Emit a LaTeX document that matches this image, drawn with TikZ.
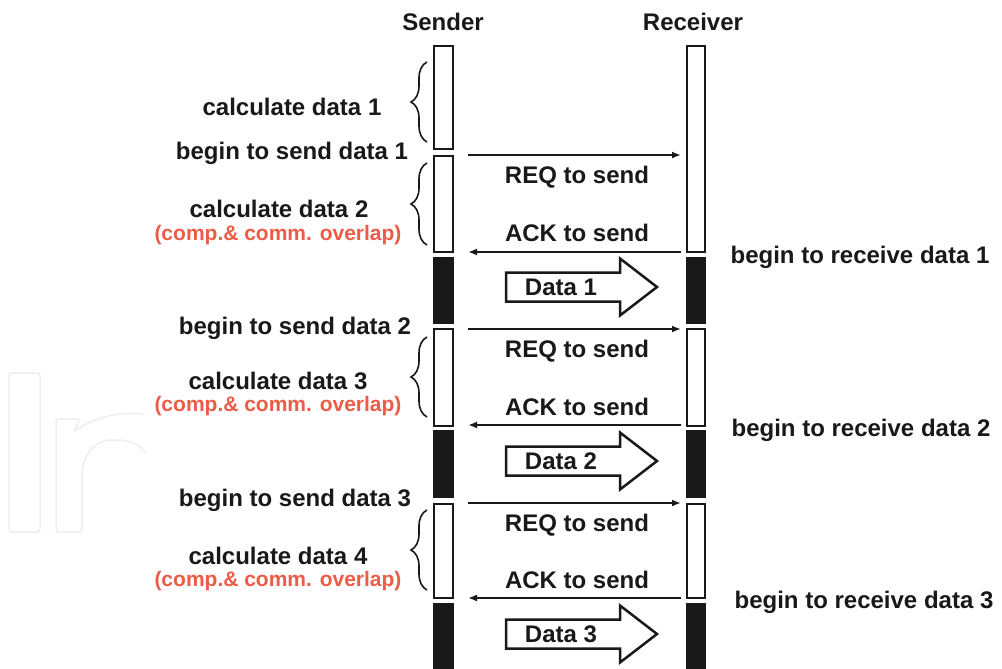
\documentclass[tikz,border=0pt]{standalone}
\usepackage{fontspec}
\setmainfont{Liberation Sans}
\usetikzlibrary{decorations.pathreplacing,arrows.meta}
\definecolor{ink}{RGB}{25,25,25}
\definecolor{redtxt}{RGB}{236,92,70}
\definecolor{wmark}{RGB}{238,238,238}
\newcommand\DataArr[3]{%
  \draw[dataarrow] (506,#1-14.5) -- (620,#1-14.5) -- (620,#1-28.5) -- (657,#1) -- (620,#1+28.5) -- (620,#1+14.5) -- (506,#1+14.5) -- cycle;
  \node[lbl] (#3) at (561,#1) {#2};}
\begin{document}
\begin{tikzpicture}[x=1pt,y=-1pt,
  lbl/.style={font=\fontsize{24}{26}\selectfont\bfseries, text=ink, inner sep=0pt},
  redlbl/.style={font=\fontsize{21}{23}\selectfont\bfseries, text=redtxt, inner sep=0pt},
  wbar/.style={draw=ink, line width=2.5pt, fill=white},
  bbar/.style={draw=ink, line width=2.5pt, fill=ink},
  msg/.style={draw=ink, line width=2pt, -{Latex[length=9pt,width=7pt]}},
  brc/.style={draw=ink, line width=1.6pt, decorate, decoration={brace, amplitude=16pt}},
  dataarrow/.style={draw=ink, line width=2.5pt, fill=white, line join=miter}]
\useasboundingbox (0,0) rectangle (1002,669);
\fill[white] (0,0) rectangle (1002,669);
% watermark
\begin{scope}
\clip (0,0) rectangle (145,669);
\draw[wmark, line width=1.5pt, rounded corners=3pt] (9,373) rectangle (40,532);
\draw[wmark, line width=1.5pt, rounded corners=3pt] (56,532) -- (56,419) -- (80,419) -- (74,432) .. controls (100,412) and (150,405) .. (175,430) -- (175,532) -- (150,532) -- (150,470) .. controls (150,450) and (135,440) .. (115,440) .. controls (95,440) and (82,455) .. (82,478) -- (82,532) -- cycle;
\end{scope}
% headers
\node[lbl] (snd) at (443,22) {Sender};
\node[lbl] (rcv) at (693,22) {Receiver};
% sender bars
\draw[wbar] (434,46) rectangle (453,149);
\draw[wbar] (434,156) rectangle (453,252);
\draw[bbar] (434,258) rectangle (453,323);
\draw[wbar] (434,329) rectangle (453,426);
\draw[bbar] (434,431) rectangle (453,497);
\draw[wbar] (434,504) rectangle (453,598);
\draw[bbar] (434,604) rectangle (453,675);
% receiver bars
\draw[wbar] (687,46) rectangle (705,252);
\draw[bbar] (687,258) rectangle (705,323);
\draw[wbar] (687,329) rectangle (705,426);
\draw[bbar] (687,431) rectangle (705,497);
\draw[wbar] (687,504) rectangle (705,598);
\draw[bbar] (687,604) rectangle (705,675);
% message endpoints
\coordinate (q1s) at (468,155); \coordinate (q1r) at (681,155);
\coordinate (a1r) at (681,252); \coordinate (a1s) at (468,252);
\coordinate (q2s) at (468,329); \coordinate (q2r) at (681,329);
\coordinate (a2r) at (681,425); \coordinate (a2s) at (468,425);
\coordinate (q3s) at (468,503); \coordinate (q3r) at (681,503);
\coordinate (a3r) at (681,598); \coordinate (a3s) at (468,598);
\draw[msg] (q1s) -- (q1r);
\draw[msg] (a1r) -- (a1s);
\draw[msg] (q2s) -- (q2r);
\draw[msg] (a2r) -- (a2s);
\draw[msg] (q3s) -- (q3r);
\draw[msg] (a3r) -- (a3s);
\node[lbl] (req1) at (577,177) {REQ to send};
\node[lbl] (ack1) at (577,233) {ACK to send};
\node[lbl] (req2) at (577,351) {REQ to send};
\node[lbl] (ack2) at (577,407) {ACK to send};
\node[lbl] (req3) at (577,525) {REQ to send};
\node[lbl] (ack3) at (577,580) {ACK to send};
% data arrows
\DataArr{287}{Data 1}{d1}
\DataArr{461}{Data 2}{d2}
\DataArr{634}{Data 3}{d3}
% braces
\draw[brc] (427,142) -- (427,62);
\draw[brc] (427,245) -- (427,163);
\draw[brc] (427,417) -- (427,337);
\draw[brc] (427,590) -- (427,510);
% left labels
\node[lbl] (c1) at (292,107) {calculate data 1};
\node[lbl] (b1) at (292,153) {begin to send data 1};
\node[lbl] (c2) at (279,209) {calculate data 2};
\node[redlbl] (o2) at (278,235) {(comp.\& comm. overlap)};
\node[lbl] (b2) at (295,328) {begin to send data 2};
\node[lbl] (c3) at (278,381) {calculate data 3};
\node[redlbl] (o3) at (278,406) {(comp.\& comm. overlap)};
\node[lbl] (b3) at (295,500) {begin to send data 3};
\node[lbl] (c4) at (278,556) {calculate data 4};
\node[redlbl] (o4) at (278,581) {(comp.\& comm. overlap)};
% right labels
\node[lbl] (r1) at (860,257) {begin to receive data 1};
\node[lbl] (r2) at (861,430) {begin to receive data 2};
\node[lbl] (r3) at (864,602) {begin to receive data 3};
\end{tikzpicture}
\end{document}
